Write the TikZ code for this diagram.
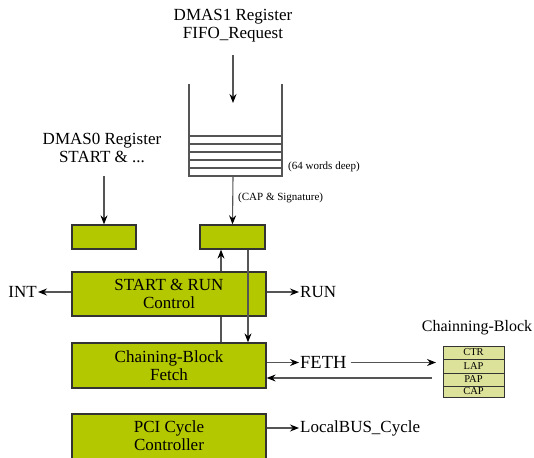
\documentclass[tikz,border=0pt]{standalone}
\usepackage{fontspec}
\setmainfont{Liberation Serif}
\usetikzlibrary{arrows.meta}
\definecolor{blockgreen}{HTML}{B4C800}
\definecolor{palegreen}{HTML}{DDE29A}
\definecolor{edgegray}{HTML}{333333}
\definecolor{wiregray}{HTML}{555555}
\tikzset{
  block/.style={draw=edgegray, line width=1.3pt, fill=blockgreen},
  wire/.style={draw=wiregray, line width=1.1pt},
  arr/.style={wire, -{Stealth[length=9pt,width=7pt,inset=3pt,color=black]}},
  bigtxt/.style={font=\fontsize{17}{18}\selectfont, align=center, inner sep=0pt},
  midtxt/.style={font=\fontsize{16}{17}\selectfont, inner sep=0pt},
  smalltxt/.style={font=\fontsize{11}{12}\selectfont, inner sep=0pt},
  celltxt/.style={font=\fontsize{10.5}{10.5}\selectfont, inner sep=0pt},
  cell/.style={draw=edgegray, line width=1pt, fill=palegreen, minimum width=61pt, inner sep=0pt},
}
\begin{document}
\begin{tikzpicture}[x=1pt,y=-1pt]
\useasboundingbox (0,0) rectangle (534,457);

% --- register sources -------------------------------------------------
\node[bigtxt] (dmas1) at (233,26) {DMAS1 Register\\FIFO\_Request};
\node[bigtxt] (dmas0) at (102,148) {DMAS0 Register\\START \& ...};
\coordinate (in1top) at (233,55);
\coordinate (in1bot) at (233,103);
\coordinate (in0top) at (104,176);

% --- FIFO (64 words deep) ----------------------------------------------
\coordinate (fifoTL) at (189,84);
\coordinate (fifoTR) at (282,84);
\coordinate (fifoBL) at (189,176);
\coordinate (fifoBR) at (282,176);
\coordinate (fifoOut) at (233,176);
\draw[wire] (fifoTL) -- (fifoBL) -- (fifoBR) -- (fifoTR);
\foreach \yy in {136,144,152,160,168}
  \draw[wire, line width=1.2pt] (189,\yy) -- (282,\yy);
\node[smalltxt, anchor=west] (depth) at (288,167) {(64 words deep)};
\draw[arr] (in1top) -- (in1bot);

% --- small register latches ---------------------------------------------
\node[block, minimum width=64pt, minimum height=24pt, inner sep=0pt] (reg0) at (104,237) {};
\node[block, minimum width=65pt, minimum height=24pt, inner sep=0pt] (reg1) at (232.5,237) {};
\draw[arr] (in0top) -- (reg0.north);
\draw[arr] (fifoOut) -- (reg1.north);
\node[smalltxt, anchor=west] (capsig) at (238,198) {(CAP \& Signature)};

% --- main control blocks ------------------------------------------------
\node[block, minimum width=194pt, minimum height=44pt, inner sep=0pt] (srun) at (169,294) {};
\node[bigtxt] at (169,294) {START \& RUN\\Control};
\node[block, minimum width=194pt, minimum height=45pt, inner sep=0pt] (fetch) at (169,365.5) {};
\node[bigtxt] at (169,365.5) {Chaining-Block\\Fetch};
\node[block, minimum width=194pt, minimum height=60pt, inner sep=0pt] (pci) at (169,444) {};
\node[bigtxt] at (169,436) {PCI Cycle\\Controller};

% vertical links between the latch and the blocks
\draw[arr] (srun.north -| 221,0) -- (reg1.south -| 221,0);
\draw[arr] (reg1.south -| 248,0) -- (fetch.north -| 248,0);
\draw[wire] (srun.south -| 221,0) -- (fetch.north -| 221,0);

% --- outputs ------------------------------------------------------------
\node[bigtxt, anchor=east] (int) at (37,292) {INT};
\draw[arr] (srun.west |- int) -- ([xshift=1pt]int.east);
\node[bigtxt, anchor=west] (run) at (300,292) {RUN};
\draw[arr] (srun.east |- run) -- ([xshift=-1pt]run.west);
\node[bigtxt, font=\fontsize{18.5}{19}\selectfont, anchor=west] (feth) at (300,362.5) {FETH};
\draw[arr] (fetch.east |- feth) -- ([xshift=-1pt]feth.west);
\node[bigtxt, anchor=west] (lbus) at (300,428) {LocalBUS\_Cycle};
\draw[arr] (pci.east |- lbus) -- ([xshift=-1pt]lbus.west);

% --- chaining block descriptor ------------------------------------------
\node[midtxt] (cbtitle) at (477,328) {Chainning-Block};
\node[cell, minimum height=13pt] (ctr) at (473.5,352.5) {};
\node[cell, minimum height=14pt] (lap) at (473.5,366) {};
\node[cell, minimum height=13pt] (pap) at (473.5,379.5) {};
\node[cell, minimum height=11pt] (cap) at (473.5,391.5) {};
\node[celltxt] at (ctr) {CTR};
\node[celltxt] at (lap) {LAP};
\node[celltxt] at (pap) {PAP};
\node[celltxt] at (cap) {CAP};
\coordinate (fethTip) at (436,362.5);
\coordinate (backStart) at (432,378);
\draw[arr] ([xshift=4pt]feth.east) -- (fethTip);
\draw[arr] (backStart) -- (fetch.east |- backStart);
\end{tikzpicture}
\end{document}
